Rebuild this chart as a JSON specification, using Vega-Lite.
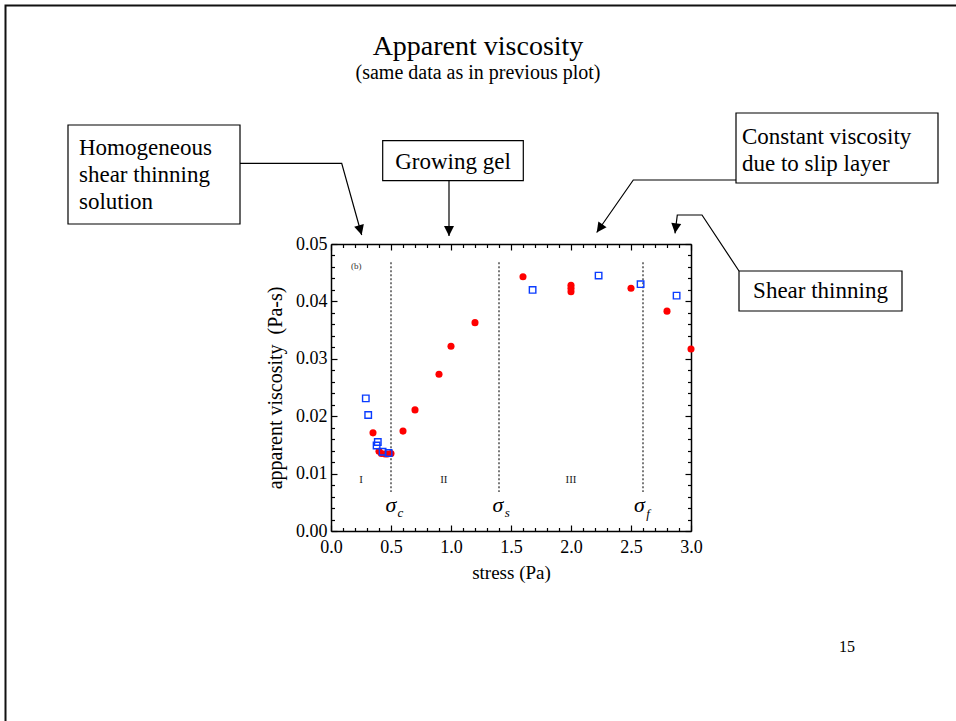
{
  "$schema": "https://vega.github.io/schema/vega-lite/v6.json",
  "width": 360,
  "height": 287,
  "autosize": {"type": "none"},
  "padding": {"left": 331, "top": 244, "right": 265, "bottom": 190},
  "background": "white",
  "config": {
    "view": {"stroke": null},
    "font": "Liberation Serif",
    "axis": {
      "grid": false,
      "domainColor": "black",
      "domainWidth": 1.5,
      "tickColor": "black",
      "tickWidth": 1.2,
      "labelFont": "Liberation Serif",
      "labelFontSize": 18,
      "labelColor": "black",
      "labelFlush": false,
      "labelOverlap": false,
      "titleFont": "Liberation Serif",
      "titleFontSize": 19,
      "titleFontWeight": "normal",
      "titleColor": "black"
    }
  },
  "datasets": {
    "red": [
      {"x": 0.35, "y": 0.0171}, {"x": 0.40, "y": 0.0139}, {"x": 0.42, "y": 0.0135},
      {"x": 0.45, "y": 0.0134}, {"x": 0.47, "y": 0.0134}, {"x": 0.50, "y": 0.0135},
      {"x": 0.60, "y": 0.0174}, {"x": 0.70, "y": 0.0211}, {"x": 0.90, "y": 0.0273},
      {"x": 1.00, "y": 0.0322}, {"x": 1.20, "y": 0.0363}, {"x": 1.60, "y": 0.0443},
      {"x": 2.00, "y": 0.0428}, {"x": 2.00, "y": 0.0423}, {"x": 2.00, "y": 0.0417},
      {"x": 2.50, "y": 0.0423}, {"x": 2.80, "y": 0.0383}, {"x": 3.00, "y": 0.0317}
    ],
    "blue": [
      {"x": 0.29, "y": 0.0231}, {"x": 0.31, "y": 0.0202}, {"x": 0.38, "y": 0.0149},
      {"x": 0.39, "y": 0.0155}, {"x": 0.43, "y": 0.0138}, {"x": 0.48, "y": 0.0136},
      {"x": 1.68, "y": 0.0420}, {"x": 2.23, "y": 0.0445}, {"x": 2.58, "y": 0.0430},
      {"x": 2.88, "y": 0.0410}
    ],
    "sigmas": [
      {"x": 0.5, "y": 0.0468, "y2": 0.0068},
      {"x": 1.4, "y": 0.0468, "y2": 0.0068},
      {"x": 2.6, "y": 0.0468, "y2": 0.0068}
    ],
    "frame": [
      {"x": -2.7125, "x2": 5.575, "y": 0.09155, "y2": -0.04686}
    ],
    "boxes": [
      {"x": -2.1917, "x2": -0.7583, "y": 0.07073, "y2": 0.05348},
      {"x": 0.4308, "x2": 1.6025, "y": 0.06800, "y2": 0.06103},
      {"x": 3.375, "x2": 5.0583, "y": 0.07282, "y2": 0.06063},
      {"x": 3.4, "x2": 4.7583, "y": 0.04530, "y2": 0.03833}
    ],
    "connectors": [
      {"id": 1, "seq": 1, "x": -0.7583, "y": 0.06406},
      {"id": 1, "seq": 2, "x": 0.0892, "y": 0.06406},
      {"id": 1, "seq": 3, "x": 0.2558, "y": 0.05157},
      {"id": 2, "seq": 1, "x": 0.9833, "y": 0.06103},
      {"id": 2, "seq": 2, "x": 0.9833, "y": 0.05139},
      {"id": 3, "seq": 1, "x": 3.375, "y": 0.06115},
      {"id": 3, "seq": 2, "x": 2.5192, "y": 0.06115},
      {"id": 3, "seq": 3, "x": 2.2142, "y": 0.05200},
      {"id": 4, "seq": 1, "x": 3.4, "y": 0.04530},
      {"id": 4, "seq": 2, "x": 3.0917, "y": 0.05505},
      {"id": 4, "seq": 3, "x": 2.8858, "y": 0.05505},
      {"id": 4, "seq": 4, "x": 2.8667, "y": 0.05186}
    ],
    "tips": [
      {"x": 0.2558, "y": 0.05157, "ang": -15.6},
      {"x": 0.9833, "y": 0.05139, "ang": 0},
      {"x": 2.2142, "y": 0.05200, "ang": 35.2},
      {"x": 2.8667, "y": 0.05186, "ang": 7.2}
    ],
    "boxTextLeft": [
      {"text": "Homogeneous", "x": -2.1, "y": 0.06672},
      {"text": "shear thinning", "x": -2.1, "y": 0.06202},
      {"text": "solution", "x": -2.1, "y": 0.05732},
      {"text": "Constant viscosity", "x": 3.425, "y": 0.06864},
      {"text": "due to slip layer", "x": 3.425, "y": 0.06394}
    ],
    "boxTextCenter": [
      {"text": "Growing gel", "x": 1.0167, "y": 0.06434},
      {"text": "Shear thinning", "x": 4.0792, "y": 0.04181}
    ],
    "regions": [
      {"text": "I", "x": 0.25, "y": 0.0088},
      {"text": "II", "x": 0.94, "y": 0.0088},
      {"text": "III", "x": 2.0, "y": 0.0088}
    ],
    "sigmaText": [
      {"text": "σ", "x": 0.5, "y": 0.0046},
      {"text": "σ", "x": 1.39, "y": 0.0046},
      {"text": "σ", "x": 2.57, "y": 0.0046}
    ],
    "subText": [
      {"text": "c", "x": 0.578, "y": 0.0032},
      {"text": "s", "x": 1.468, "y": 0.0032},
      {"text": "f", "x": 2.643, "y": 0.0030}
    ]
  },
  "layer": [
    {
      "data": {"name": "frame"},
      "mark": {"type": "rect", "fill": "transparent", "stroke": "#111111", "strokeWidth": 2, "clip": false},
      "encoding": {
        "x": {"field": "x", "type": "quantitative", "axis": null},
        "x2": {"field": "x2"},
        "y": {"field": "y", "type": "quantitative", "axis": null},
        "y2": {"field": "y2"}
      }
    },
    {
      "data": {"name": "boxes"},
      "mark": {"type": "rect", "fill": "white", "stroke": "black", "strokeWidth": 1.2, "clip": false},
      "encoding": {
        "x": {"field": "x", "type": "quantitative", "axis": null},
        "x2": {"field": "x2"},
        "y": {"field": "y", "type": "quantitative", "axis": null},
        "y2": {"field": "y2"}
      }
    },
    {
      "data": {"name": "connectors"},
      "mark": {"type": "line", "color": "black", "strokeWidth": 1.2, "clip": false},
      "encoding": {
        "x": {"field": "x", "type": "quantitative", "axis": null},
        "y": {"field": "y", "type": "quantitative", "axis": null},
        "detail": {"field": "id", "type": "nominal"},
        "order": {"field": "seq", "type": "quantitative"}
      }
    },
    {
      "data": {"name": "tips"},
      "mark": {"type": "point", "shape": "M0,0L-0.5,-1L0.5,-1Z", "filled": true, "color": "black", "size": 400, "opacity": 1, "clip": false},
      "encoding": {
        "x": {"field": "x", "type": "quantitative", "axis": null},
        "y": {"field": "y", "type": "quantitative", "axis": null},
        "angle": {"field": "ang", "type": "quantitative", "scale": null}
      }
    },
    {
      "data": {"name": "boxTextLeft"},
      "mark": {"type": "text", "align": "left", "baseline": "middle", "fontSize": 23, "font": "Liberation Serif", "color": "black", "clip": false},
      "encoding": {
        "x": {"field": "x", "type": "quantitative", "axis": null},
        "y": {"field": "y", "type": "quantitative", "axis": null},
        "text": {"field": "text"}
      }
    },
    {
      "data": {"name": "boxTextCenter"},
      "mark": {"type": "text", "align": "center", "baseline": "middle", "fontSize": 23, "font": "Liberation Serif", "color": "black", "clip": false},
      "encoding": {
        "x": {"field": "x", "type": "quantitative", "axis": null},
        "y": {"field": "y", "type": "quantitative", "axis": null},
        "text": {"field": "text"}
      }
    },
    {
      "data": {"values": [{"text": "Apparent viscosity"}]},
      "mark": {"type": "text", "align": "center", "baseline": "middle", "fontSize": 28, "font": "Liberation Serif", "color": "black", "clip": false},
      "encoding": {
        "x": {"datum": 1.225, "type": "quantitative", "axis": null},
        "y": {"datum": 0.08432, "type": "quantitative", "axis": null},
        "text": {"field": "text"}
      }
    },
    {
      "data": {"values": [{"text": "(same data as in previous plot)"}]},
      "mark": {"type": "text", "align": "center", "baseline": "middle", "fontSize": 20, "font": "Liberation Serif", "color": "black", "clip": false},
      "encoding": {
        "x": {"datum": 1.225, "type": "quantitative", "axis": null},
        "y": {"datum": 0.07979, "type": "quantitative", "axis": null},
        "text": {"field": "text"}
      }
    },
    {
      "data": {"values": [{"text": "15"}]},
      "mark": {"type": "text", "align": "center", "baseline": "middle", "fontSize": 16, "font": "Liberation Serif", "color": "black", "clip": false},
      "encoding": {
        "x": {"datum": 4.3, "type": "quantitative", "axis": null},
        "y": {"datum": -0.0202, "type": "quantitative", "axis": null},
        "text": {"field": "text"}
      }
    },
    {
      "data": {"values": [{"text": "(b)"}]},
      "mark": {"type": "text", "align": "center", "baseline": "middle", "fontSize": 9, "font": "Liberation Serif", "color": "#333333", "clip": false},
      "encoding": {
        "x": {"datum": 0.21, "type": "quantitative", "axis": null},
        "y": {"datum": 0.0462, "type": "quantitative", "axis": null},
        "text": {"field": "text"}
      }
    },
    {
      "data": {"name": "regions"},
      "mark": {"type": "text", "align": "center", "baseline": "middle", "fontSize": 11, "font": "Liberation Serif", "color": "#222222", "clip": false},
      "encoding": {
        "x": {"field": "x", "type": "quantitative", "axis": null},
        "y": {"field": "y", "type": "quantitative", "axis": null},
        "text": {"field": "text"}
      }
    },
    {
      "data": {"name": "sigmaText"},
      "mark": {"type": "text", "align": "center", "baseline": "middle", "fontSize": 22, "fontStyle": "italic", "font": "Liberation Serif", "color": "black", "clip": false},
      "encoding": {
        "x": {"field": "x", "type": "quantitative", "axis": null},
        "y": {"field": "y", "type": "quantitative", "axis": null},
        "text": {"field": "text"}
      }
    },
    {
      "data": {"name": "subText"},
      "mark": {"type": "text", "align": "center", "baseline": "middle", "fontSize": 13, "fontStyle": "italic", "font": "Liberation Serif", "color": "black", "clip": false},
      "encoding": {
        "x": {"field": "x", "type": "quantitative", "axis": null},
        "y": {"field": "y", "type": "quantitative", "axis": null},
        "text": {"field": "text"}
      }
    },
    {
      "data": {"name": "sigmas"},
      "mark": {"type": "rule", "color": "#222222", "strokeWidth": 1.2, "strokeDash": [2, 2]},
      "encoding": {
        "x": {
          "field": "x", "type": "quantitative",
          "axis": {
            "orient": "top", "labels": false, "title": null,
            "values": [0,0.1,0.2,0.3,0.4,0.5,0.6,0.7,0.8,0.9,1,1.1,1.2,1.3,1.4,1.5,1.6,1.7,1.8,1.9,2,2.1,2.2,2.3,2.4,2.5,2.6,2.7,2.8,2.9,3],
            "tickSize": {"condition": {"test": "abs(datum.value*2-round(datum.value*2))<0.001", "value": -6}, "value": -3.5}
          }
        },
        "y": {
          "field": "y", "type": "quantitative",
          "axis": {
            "orient": "right", "labels": false, "title": null,
            "values": [0,0.002,0.004,0.006,0.008,0.01,0.012,0.014,0.016,0.018,0.02,0.022,0.024,0.026,0.028,0.03,0.032,0.034,0.036,0.038,0.04,0.042,0.044,0.046,0.048,0.05],
            "tickSize": {"condition": {"test": "abs(datum.value*100-round(datum.value*100))<0.001", "value": -6}, "value": -3.5}
          }
        },
        "y2": {"field": "y2"}
      }
    },
    {
      "data": {"name": "red"},
      "mark": {"type": "circle", "color": "#ff0000", "size": 50, "opacity": 1},
      "encoding": {
        "x": {
          "field": "x", "type": "quantitative",
          "scale": {"domain": [0, 3], "nice": false, "zero": false},
          "axis": {
            "orient": "bottom", "title": "stress (Pa)",
            "values": [0,0.1,0.2,0.3,0.4,0.5,0.6,0.7,0.8,0.9,1,1.1,1.2,1.3,1.4,1.5,1.6,1.7,1.8,1.9,2,2.1,2.2,2.3,2.4,2.5,2.6,2.7,2.8,2.9,3],
            "labelExpr": "abs(datum.value*2-round(datum.value*2))<0.001 ? format(datum.value,'.1f') : ''",
            "tickSize": {"condition": {"test": "abs(datum.value*2-round(datum.value*2))<0.001", "value": -6}, "value": -3.5},
            "labelPadding": 13,
            "titlePadding": 5
          }
        },
        "y": {
          "field": "y", "type": "quantitative",
          "scale": {"domain": [0, 0.05], "nice": false, "zero": false},
          "axis": {
            "orient": "left", "title": "apparent viscosity \u00a0(Pa-s)",
            "values": [0,0.002,0.004,0.006,0.008,0.01,0.012,0.014,0.016,0.018,0.02,0.022,0.024,0.026,0.028,0.03,0.032,0.034,0.036,0.038,0.04,0.042,0.044,0.046,0.048,0.05],
            "labelExpr": "abs(datum.value*100-round(datum.value*100))<0.001 ? format(datum.value,'.2f') : ''",
            "tickSize": {"condition": {"test": "abs(datum.value*100-round(datum.value*100))<0.001", "value": -6}, "value": -3.5},
            "labelPadding": 10,
            "titlePadding": 10,
            "titleFontSize": 20
          }
        }
      }
    },
    {
      "data": {"name": "blue"},
      "mark": {"type": "point", "shape": "square", "filled": false, "color": "#0a3cff", "strokeWidth": 1.4, "size": 42, "opacity": 1},
      "encoding": {
        "x": {"field": "x", "type": "quantitative", "axis": null},
        "y": {"field": "y", "type": "quantitative", "axis": null}
      }
    }
  ],
  "resolve": {"axis": {"x": "independent", "y": "independent"}}
}
